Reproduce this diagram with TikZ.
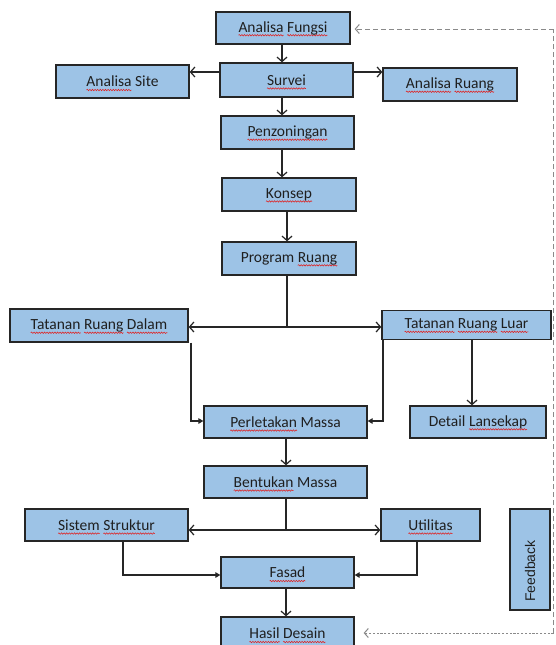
\documentclass[tikz,border=0pt]{standalone}
\usepackage{fontspec}
\setmainfont{Carlito}
\newfontfamily\fbfont{Liberation Sans}
\usetikzlibrary{arrows.meta,decorations.pathmorphing}
\definecolor{boxblue}{HTML}{9DC3E6}
\definecolor{txt}{HTML}{1F1F1F}
\definecolor{dashgray}{HTML}{8A8A8A}
\definecolor{spell}{HTML}{E02020}
\newsavebox\sqbox
\newcommand\sq[1]{\sbox\sqbox{#1}\rlap{\tikz[overlay,baseline=0pt]\draw[spell, line width=0.55pt, decorate, decoration={snake, amplitude=0.7pt, segment length=2.6pt}] (0pt,-3.2pt) -- (\the\wd\sqbox,-3.2pt);}\usebox\sqbox}
\tikzset{
  box/.style={draw=black!85, fill=boxblue, line width=1.3pt, inner sep=0pt,
    text=txt, font=\fontsize{15.5}{18}\selectfont},
  arr/.style={line width=1.2pt, draw=black!85, -{Straight Barb[length=4.5pt,width=10pt,line width=1.2pt]}},
  farr/.style={line width=1.2pt, draw=black!85, -{Triangle[length=5pt,width=5.5pt]}},
  ln/.style={line width=1.2pt, draw=black!85},
  fbtop/.style={line width=1pt, draw=dashgray, dash pattern=on 5pt off 3pt},
  fbbot/.style={line width=1pt, draw=dashgray, dash pattern=on 2.2pt off 1.6pt},
  fbtip/.style={-{Straight Barb[length=4pt,width=9pt,line width=1pt]}}
}
\begin{document}
\begin{tikzpicture}[x=1pt,y=-1pt]
\useasboundingbox (0,0) rectangle (555,645);
% boxes
\node[box, minimum width=134, minimum height=32] (fungsi) at (283,28) {\sq{Analisa} \sq{Fungsi}};
\node[box, minimum width=133, minimum height=34] (survei) at (286.5,80) {\sq{Survei}};
\node[box, minimum width=133, minimum height=33] (site) at (122.5,81.5) {\sq{Analisa} Site};
\node[box, minimum width=134, minimum height=33] (aruang) at (450,84.5) {\sq{Analisa} \sq{Ruang}};
\node[box, minimum width=133, minimum height=33] (penz) at (287.5,132.5) {\sq{Penzoningan}};
\node[box, minimum width=134, minimum height=33] (konsep) at (289,194.5) {\sq{Konsep}};
\node[box, minimum width=134, minimum height=33] (program) at (289,258.5) {Program \sq{Ruang}};
\node[box, minimum width=178, minimum height=33] (dalam) at (99,325.5) {\sq{Tatanan} \sq{Ruang} \sq{Dalam}};
\node[box, minimum width=169, minimum height=29] (luar) at (466.5,325) {\sq{Tatanan} \sq{Ruang} \sq{Luar}};
\node[box, minimum width=163, minimum height=32] (perlet) at (285.5,422) {\sq{Perletakan} Massa};
\node[box, minimum width=136, minimum height=32] (detail) at (478,422) {Detail \sq{Lansekap}};
\node[box, minimum width=163, minimum height=32] (bentuk) at (285.5,482) {\sq{Bentukan} Massa};
\node[box, minimum width=163, minimum height=32] (sistem) at (106.5,525) {\sq{Sistem} \sq{Struktur}};
\node[box, minimum width=99, minimum height=32] (util) at (430.5,525) {\sq{Utilitas}};
\node[box, minimum width=133, minimum height=31] (fasad) at (287.5,572.5) {\sq{Fasad}};
\node[box, minimum width=133, minimum height=33] (hasil) at (287.5,633.5) {\sq{Hasil} \sq{Desain}};
\node[box, minimum width=40, minimum height=101] (fb) at (530,559.5) {};
\node[rotate=90, inner sep=0pt, text=txt, font=\fbfont\fontsize{14}{16}\selectfont] (fbtext) at (530,571) {Feedback};
% helper coordinates
\coordinate (ytop) at (0,72);
\coordinate (c282) at (282,0);
\coordinate (c287) at (287,0);
\coordinate (c286) at (286,0);
\coordinate (y327) at (0,327);
\coordinate (y421) at (0,421);
\coordinate (y530) at (0,530);
\coordinate (y575) at (0,575);
\coordinate (xdalam) at (191,0);
\coordinate (xluar) at (383,0);
\coordinate (xdet) at (472,0);
\coordinate (xsis) at (123,0);
\coordinate (xutil) at (417,0);
\coordinate (fbr) at (553.5,29);
\coordinate (fbb) at (553.5,633);
% connectors
\draw[arr] (fungsi.south -| c282) -- (survei.north -| c282);
\draw[arr] (survei.west |- ytop) -- (site.east |- ytop);
\draw[arr] (survei.east |- ytop) -- (aruang.west |- ytop);
\draw[arr] (survei.south -| c282) -- (penz.north -| c282);
\draw[arr] (penz.south -| c282) -- (konsep.north -| c282);
\draw[arr] (konsep.south -| c287) -- (program.north -| c287);
\draw[ln] (program.south -| c287) -- (c287 |- y327);
\draw[arr] (c287 |- y327) -- (dalam.east |- y327);
\draw[arr] (c287 |- y327) -- (luar.west |- y327);
\draw[farr] (dalam.south -| xdalam) -- (xdalam |- y421) -- (perlet.west |- y421);
\draw[farr] (luar.south -| xluar) -- (xluar |- y421) -- (perlet.east |- y421);
\draw[arr] (luar.south -| xdet) -- (detail.north -| xdet);
\draw[arr] (perlet.south -| c286) -- (bentuk.north -| c286);
\draw[ln] (bentuk.south -| c286) -- (c286 |- y530);
\draw[arr] (c286 |- y530) -- (sistem.east |- y530);
\draw[arr] (c286 |- y530) -- (util.west |- y530);
\draw[farr] (sistem.south -| xsis) -- (xsis |- y575) -- (fasad.west |- y575);
\draw[farr] (util.south -| xutil) -- (xutil |- y575) -- (fasad.east |- y575);
\draw[arr] (fasad.south -| c286) -- (hasil.north -| c286);
% feedback dashed
\draw[fbtop] (fbb) -- (fbr);
\draw[fbtop, fbtip] (fbr) -- ([xshift=4pt]fungsi.east |- fbr);
\draw[fbbot, fbtip] (fbb) -- ([xshift=9pt]hasil.east |- fbb);
\end{tikzpicture}
\end{document}
